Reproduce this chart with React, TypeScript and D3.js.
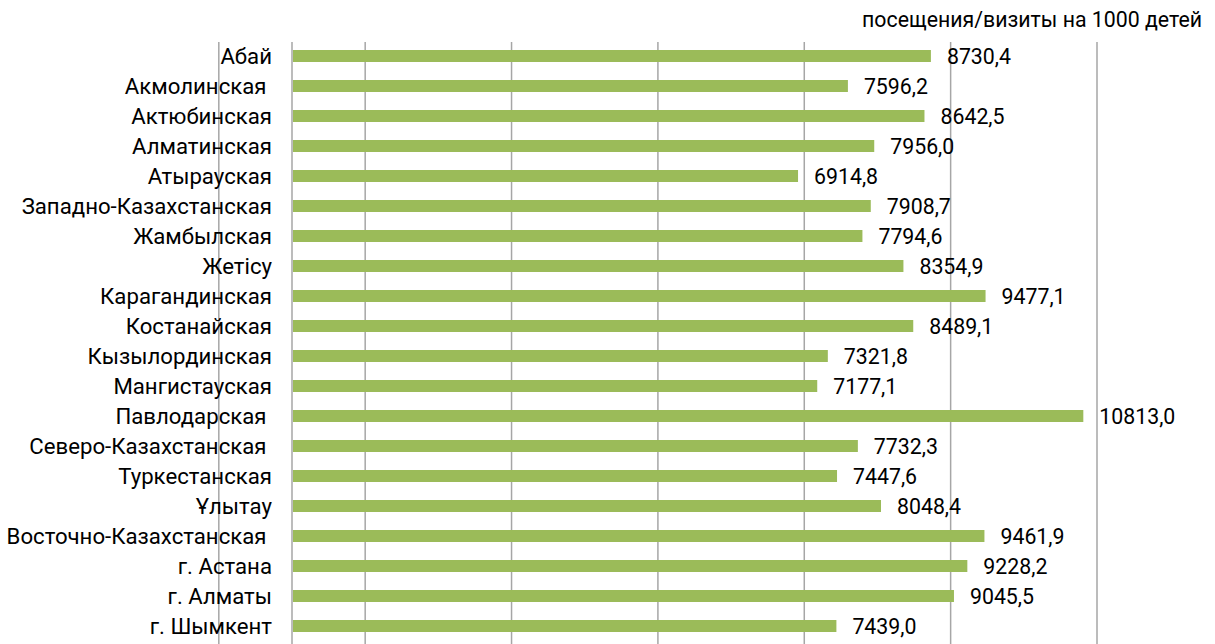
import React from "react";
import * as d3 from "d3";

const categories = [
  "Абай",
  "Акмолинская ",
  "Актюбинская",
  "Алматинская",
  "Атырауская",
  "Западно-Казахстанская",
  "Жамбылская",
  "Жетісу",
  "Карагандинская",
  "Костанайская",
  "Кызылординская",
  "Мангистауская",
  "Павлодарская ",
  "Северо-Казахстанская ",
  "Туркестанская",
  "Ұлытау",
  "Восточно-Казахстанская ",
  "г. Астана",
  "г. Алматы",
  "г. Шымкент",
];

const values = [
  8730.4, 7596.2, 8642.5, 7956.0, 6914.8, 7908.7, 7794.6, 8354.9, 9477.1, 8489.1,
  7321.8, 7177.1, 10813.0, 7732.3, 7447.6, 8048.4, 9461.9, 9228.2, 9045.5, 7439.0,
];

const gridValues = [-1000, 0, 1000, 3000, 5000, 7000, 9000, 11000];

const unitLabel = "посещения/визиты на 1000 детей";

const W = 1215;
const H = 644;
const FONT = "Roboto, 'Noto Sans', sans-serif";

export default function App() {
  const x = d3.scaleLinear().domain([0, 11000]).range([292, 1097]);
  const y = d3
    .scaleBand<string>()
    .domain(categories.map((_, i) => String(i)))
    .range([41, 41 + 30 * categories.length])
    .paddingInner(0.6)
    .paddingOuter(0.3);
  const fmt = (v: number) => v.toFixed(1).replace(".", ",");

  return (
    <svg
      width={W}
      height={H}
      style={{ position: "absolute", left: 0, top: 0, background: "#fff" }}
      fontFamily={FONT}
    >
      <text x={1202} y={27} textAnchor="end" fontSize={21.3} fill="#000">
        {unitLabel}
      </text>
      {gridValues.map((g) => (
        <line
          key={g}
          x1={x(g)}
          x2={x(g)}
          y1={42}
          y2={H}
          stroke="#a6a6a6"
          strokeWidth={1.5}
        />
      ))}
      {categories.map((c, i) => {
        const yy = y(String(i))!;
        const bh = y.bandwidth();
        const cy = yy + bh / 2;
        return (
          <g key={i}>
            <rect
              x={x(0) + 1}
              y={yy}
              width={x(values[i]) - x(0) - 1}
              height={bh}
              fill="#9bbb59"
            />
            <text
              x={272}
              y={cy}
              dy="0.36em"
              textAnchor="end"
              fontSize={22.2}
              fill="#000"
              style={{ whiteSpace: "pre" }}
            >
              {c}
            </text>
            <text
              x={x(values[i]) + 16}
              y={cy}
              dy="0.36em"
              fontSize={21.3}
              fill="#000"
            >
              {fmt(values[i])}
            </text>
          </g>
        );
      })}
    </svg>
  );
}
